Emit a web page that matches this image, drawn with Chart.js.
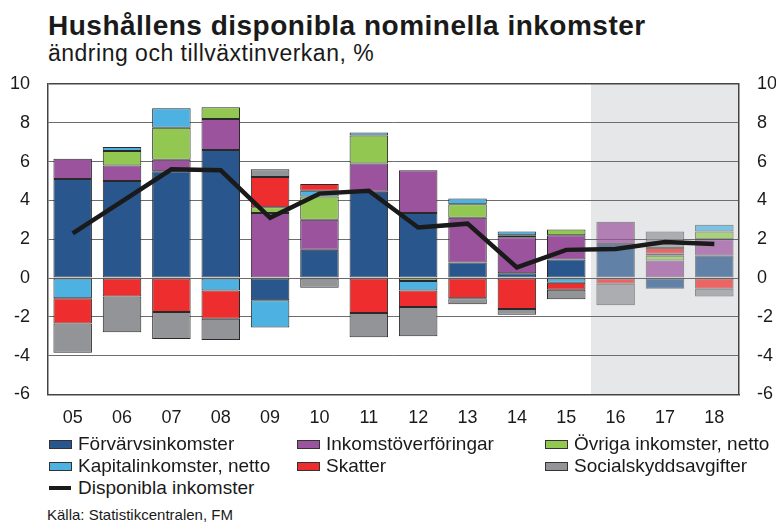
<!DOCTYPE html>
<html>
<head>
<meta charset="utf-8">
<script src="https://cdn.jsdelivr.net/npm/chart.js@4/dist/chart.umd.min.js"></script>
<style>
  body { margin: 0; background: #fff; font-family: "Liberation Sans", Arial, sans-serif; color: #1a1a1a; }
  #wrap { position: relative; width: 776px; height: 524px; overflow: hidden; }
  #chart { position: absolute; left: 0; top: 0; }
  .title { position: absolute; left: 48px; top: 12px; font-size: 28px; line-height: 28px; letter-spacing: 0.5px; font-weight: bold; white-space: nowrap; }
  .sub { position: absolute; left: 48px; top: 42px; font-size: 23px; line-height: 23px; letter-spacing: 0.5px; white-space: nowrap; }
  .lg { position: absolute; font-size: 19px; line-height: 19px; white-space: nowrap; }
  .box { position: absolute; width: 21px; height: 7px; border: 1px solid #333; }
  .ln { position: absolute; width: 22px; height: 4px; background: #1a1a1a; }
  .src { position: absolute; left: 47px; top: 507px; font-size: 15px; line-height: 15px; white-space: nowrap; }
</style>
</head>
<body>
<div id="wrap">
  <div class="title">Hushållens disponibla nominella inkomster</div>
  <div class="sub">ändring och tillväxtinverkan, %</div>
  <canvas id="chart" width="776" height="442"></canvas>
  <div id="legend"></div>
  <div class="src">Källa: Statistikcentralen, FM</div>
</div>
<script>
const years = ['05', '06', '07', '08', '09', '10', '11', '12', '13', '14', '15', '16', '17', '18'];
const forecastFrom = 11; // 16 och framåt är prognos

const forvarvsinkomster = [5.1, 5.0, 5.5, 6.6, -1.15, 1.45, 4.45, 3.35, 0.8, 0.25, 0.95, 1.75, -0.55, 1.15];
const inkomstoverforingar = [1.05, 0.8, 0.6, 1.6, 3.35, 1.55, 1.45, 2.2, 2.3, 1.85, 1.25, 1.15, 0.9, 0.85];
const ovrigaInkomster = [0, 0.75, 1.65, 0.6, 0.3, 1.2, 1.45, -0.15, 0.7, 0.1, 0.3, 0, 0.25, 0.4];
const kapitalinkomster = [-1.05, 0.2, 1.0, -0.65, -1.4, 0.3, 0.15, -0.5, 0.3, 0.2, -0.25, 0, 0.1, 0.35];
const skatter = [-1.3, -0.95, -1.75, -1.45, 1.55, 0.35, -1.8, -0.85, -1.05, -1.6, -0.35, -0.3, 0.3, -0.55];
const socialskyddsavgifter = [-1.5, -1.85, -1.4, -1.1, 0.4, -0.5, -1.25, -1.5, -0.3, -0.3, -0.5, -1.1, 0.85, -0.4];
const disponiblaInkomster = [2.3, 3.95, 5.6, 5.55, 3.1, 4.35, 4.5, 2.6, 2.8, 0.55, 1.45, 1.5, 1.85, 1.75];

const yTicks = [-6, -4, -2, 0, 2, 4, 6, 8, 10];

const barSeries = [
  { label: 'Förvärvsinkomster', data: forvarvsinkomster, color: [41, 86, 140] },
  { label: 'Inkomstöverföringar', data: inkomstoverforingar, color: [155, 83, 158] },
  { label: 'Övriga inkomster, netto', data: ovrigaInkomster, color: [146, 200, 82] },
  { label: 'Kapitalinkomster, netto', data: kapitalinkomster, color: [77, 178, 226] },
  { label: 'Skatter', data: skatter, color: [237, 45, 46] },
  { label: 'Socialskyddsavgifter', data: socialskyddsavgifter, color: [147, 148, 152] },
];

function rgb(c, a) {
  return 'rgba(' + c[0] + ',' + c[1] + ',' + c[2] + ',' + a + ')';
}

const datasets = barSeries.map(function (s) {
  return {
    type: 'bar',
    label: s.label,
    data: s.data,
    order: 1,
    backgroundColor: function (ctx) {
      return ctx.dataIndex >= forecastFrom ? rgb(s.color, 0.7) : rgb(s.color, 1);
    },
    borderColor: function (ctx) {
      return ctx.dataIndex >= forecastFrom ? 'rgba(60,60,60,0.6)' : '#2a2a2a';
    },
    borderWidth: 1,
    borderSkipped: false,
    barPercentage: 0.78,
    categoryPercentage: 1,
  };
});

datasets.push({
  type: 'line',
  label: 'Disponibla inkomster',
  data: disponiblaInkomster,
  order: 0,
  borderColor: '#1a1a1a',
  borderWidth: 4.5,
  pointRadius: 0,
  tension: 0,
  fill: false,
});

// grått prognosområde
const forecastShade = {
  id: 'forecastShade',
  beforeDraw(chart) {
    const { ctx, chartArea, scales } = chart;
    const x = scales.x;
    const left = (x.getPixelForValue(forecastFrom - 1) + x.getPixelForValue(forecastFrom)) / 2;
    ctx.save();
    ctx.fillStyle = '#e6e7e8';
    ctx.fillRect(left, chartArea.top, chartArea.right - left, chartArea.bottom - chartArea.top);
    ctx.restore();
  },
};

const tickFont = { family: '"Liberation Sans", Arial, sans-serif', size: 18 };

new Chart(document.getElementById('chart'), {
  data: { labels: years, datasets: datasets },
  plugins: [forecastShade],
  options: {
    responsive: false,
    animation: false,
    layout: { padding: { top: 84, left: 0, right: 0, bottom: 0 } },
    plugins: { legend: { display: false }, tooltip: { enabled: false } },
    scales: {
      x: {
        stacked: true,
        grid: { display: false, drawTicks: false },
        border: { display: true, color: '#444', width: 1.5 },
        ticks: { font: tickFont, color: '#1a1a1a', padding: 13, maxRotation: 0 },
      },
      y: {
        stacked: true,
        min: -6,
        max: 10,
        afterBuildTicks(s) { s.ticks = yTicks.map(v => ({ value: v })); },
        grid: {
          drawTicks: false,
          color: function (ctx) { return ctx.tick && ctx.tick.value === 10 ? '#444' : '#6d6d6d'; },
          lineWidth: function (ctx) { return ctx.tick && ctx.tick.value === 10 ? 1.5 : 1; },
        },
        border: { display: true, color: '#444', width: 1.5 },
        ticks: { font: tickFont, color: '#1a1a1a', padding: 18 },
        afterFit(s) { s.width = 48; },
      },
      y2: {
        position: 'right',
        min: -6,
        max: 10,
        afterBuildTicks(s) { s.ticks = yTicks.map(v => ({ value: v })); },
        grid: { display: false, drawTicks: false },
        border: { display: true, color: '#444', width: 1.5 },
        ticks: { font: tickFont, color: '#1a1a1a', padding: 18 },
        afterFit(s) { s.width = 37; },
      },
    },
  },
});

// legend som i originalet: tre kolumner
const legend = document.getElementById('legend');
const colX = [49, 297, 545];
const rowY = [434, 456, 478];
barSeries.forEach(function (s, i) {
  const col = i % 3;
  const row = Math.floor(i / 3);
  const box = document.createElement('div');
  box.className = 'box';
  box.style.left = colX[col] + 'px';
  box.style.top = (rowY[row] + 6) + 'px';
  box.style.background = rgb(s.color, 1);
  legend.appendChild(box);
  const t = document.createElement('div');
  t.className = 'lg';
  t.style.left = (colX[col] + 29) + 'px';
  t.style.top = rowY[row] + 'px';
  t.textContent = s.label;
  legend.appendChild(t);
});
const ln = document.createElement('div');
ln.className = 'ln';
ln.style.left = colX[0] + 'px';
ln.style.top = (rowY[2] + 8) + 'px';
legend.appendChild(ln);
const lt = document.createElement('div');
lt.className = 'lg';
lt.style.left = (colX[0] + 29) + 'px';
lt.style.top = rowY[2] + 'px';
lt.textContent = 'Disponibla inkomster';
legend.appendChild(lt);
</script>
</body>
</html>
